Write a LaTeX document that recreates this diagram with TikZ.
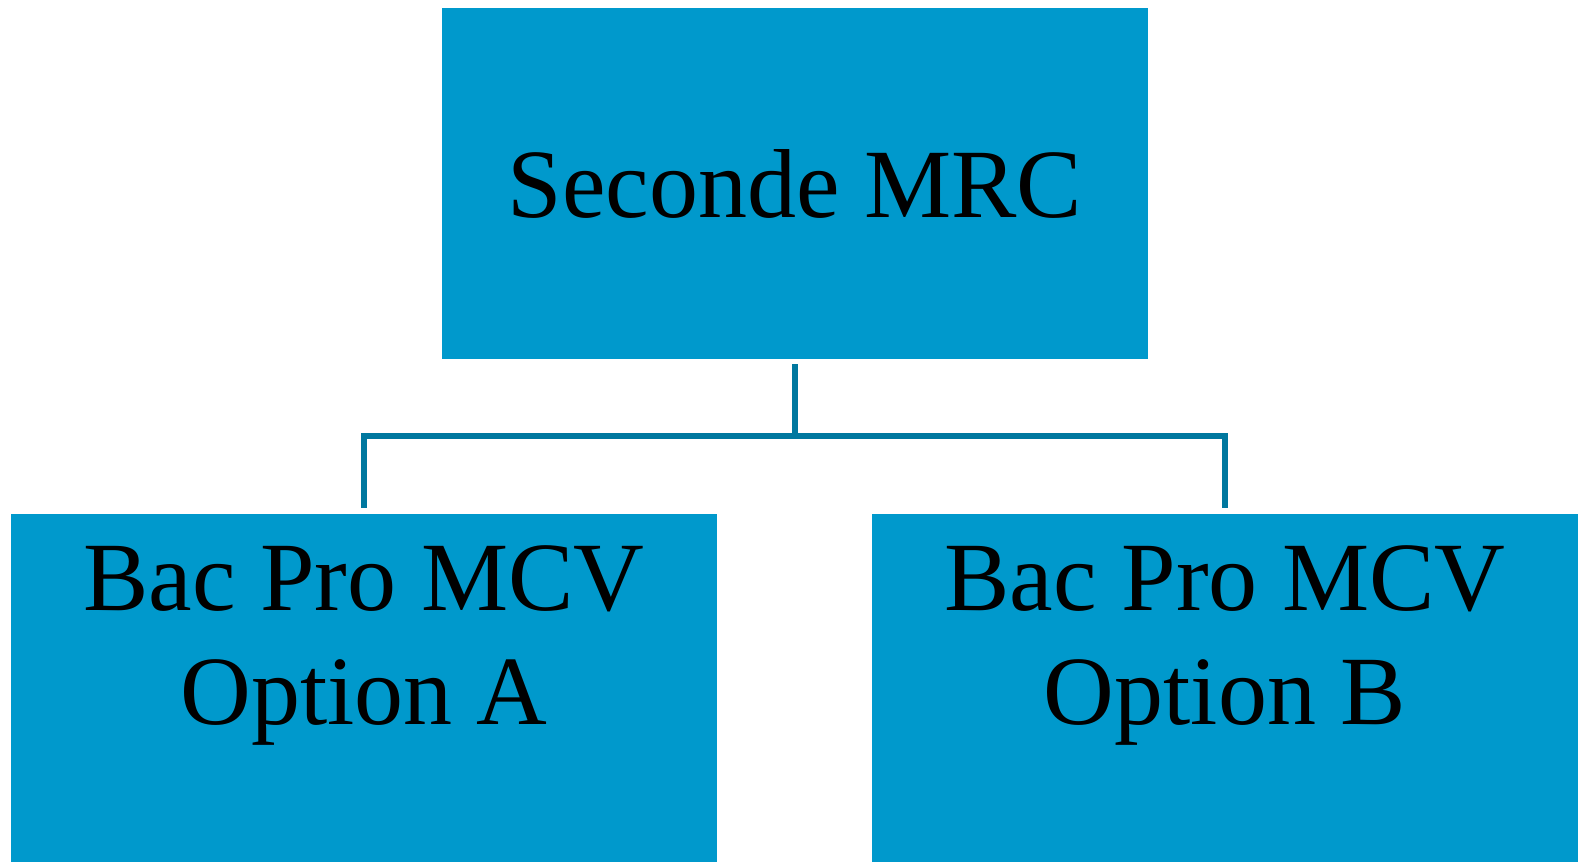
\documentclass[tikz,border=0pt]{standalone}
\usepackage{fontspec}
\setmainfont{Liberation Serif}
\usetikzlibrary{positioning}
\definecolor{boxblue}{HTML}{0099CC}
\definecolor{linkblue}{HTML}{00789F}
\begin{document}
\begin{tikzpicture}[x=0.5pt,y=-0.5pt,
    box/.style={fill=boxblue, minimum width=353pt, inner sep=0pt},
    boxtext/.style={font=\fontsize{49}{57}\selectfont, align=center, inner sep=0pt},
    link/.style={draw=linkblue, line width=3pt, shorten <=2.5pt, shorten >=3pt}]
\useasboundingbox (0,0) rectangle (1583,862);
\node[box, boxtext, minimum height=175.5pt] (seconde) at (795,183.5) {Seconde MRC};
\node[box, minimum height=174pt] (optA) at (364,688) {};
\node[box, minimum height=174pt] (optB) at (1225,688) {};
\node[boxtext, below=16pt of optA.north] (optAtext) {Bac Pro MCV\\Option A};
\node[boxtext, below=16pt of optB.north] (optBtext) {Bac Pro MCV\\Option B};

\coordinate (bar) at (795,436);
\foreach \k in {optA,optB}
{
    \draw[link] (seconde.south) -- (seconde.south |- bar) -| (\k.north);
}
\end{tikzpicture}
\end{document}
